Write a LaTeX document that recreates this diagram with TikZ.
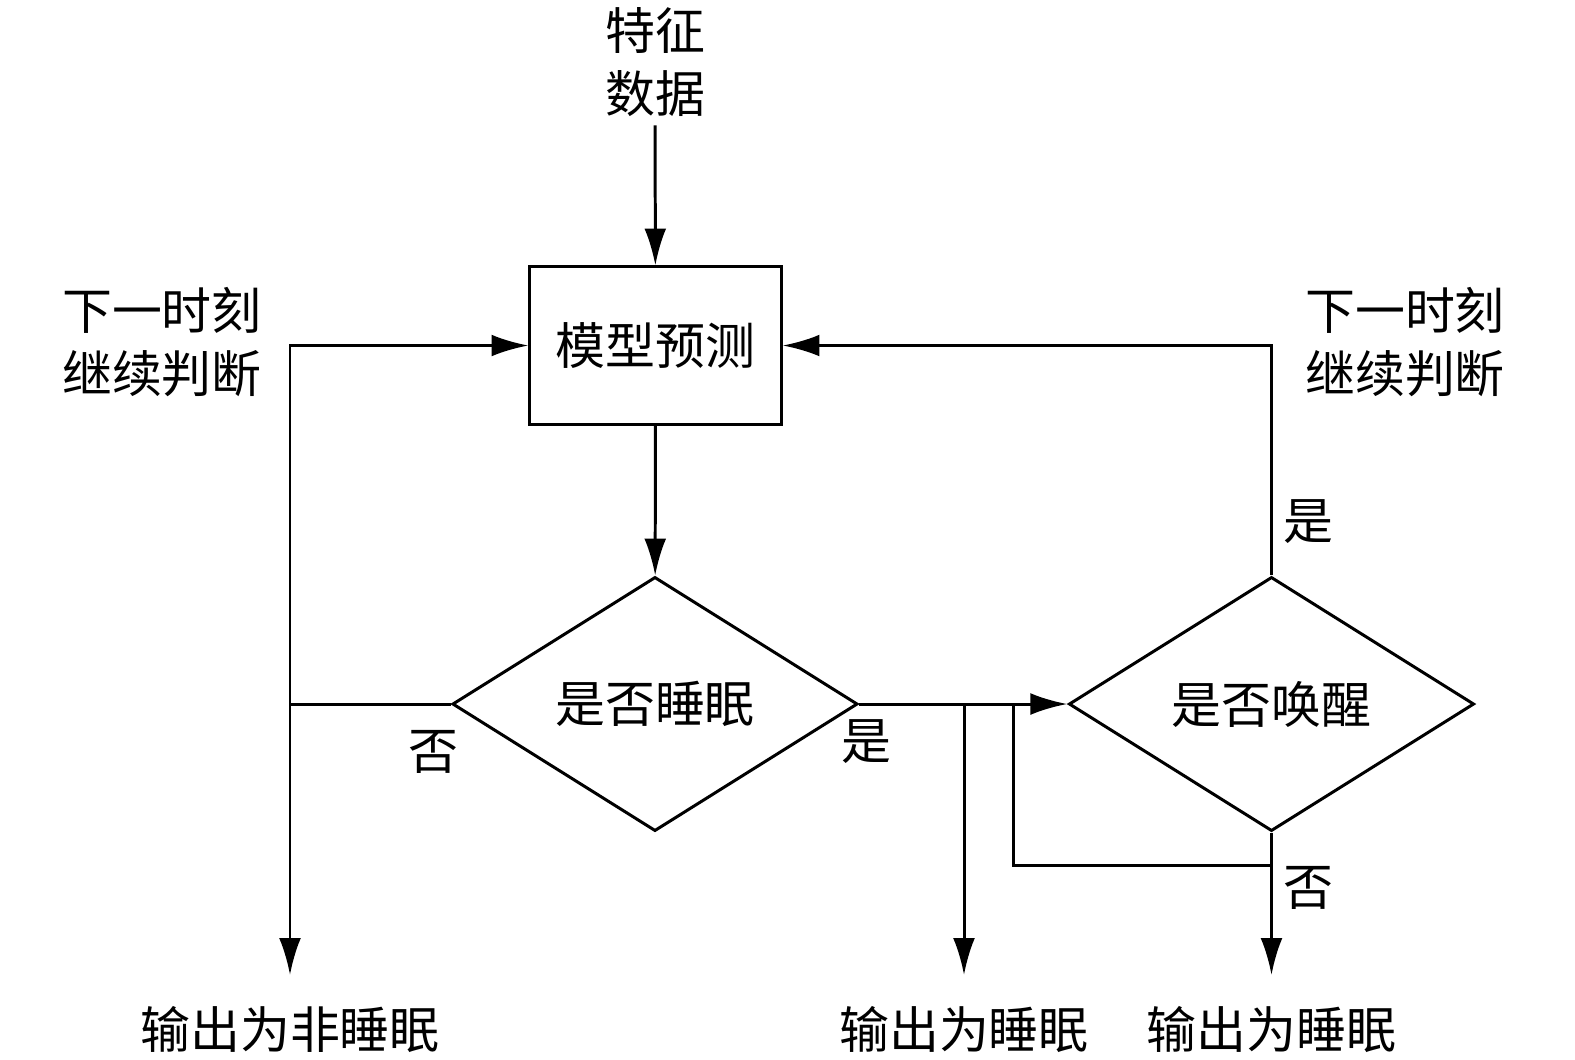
\documentclass[tikz,border=0pt]{standalone}
\usepackage{fontspec}
\newfontfamily\cjk{Noto Sans CJK SC}
\usepackage{tikz}
\usetikzlibrary{arrows.meta,shapes.geometric,calc}
\tikzset{>={Latex[length=10.5pt,width=6.2pt]}}
\tikzset{
	box/.style={draw,line width=0.85pt,minimum width=2.51cm,minimum height=1.57cm,inner sep=0pt},
	decision/.style={draw,diamond,line width=0.85pt,minimum width=4.05cm,minimum height=2.54cm,inner sep=0pt},
	txt/.style={align=center,inner sep=2pt}
}

\begin{document}
\begin{tikzpicture}[x=0.01cm,y=-0.01cm,line width=0.85pt,font=\cjk\fontsize{14.2}{18}\selectfont]
	\useasboundingbox (0,0) rectangle (1575,1059);
	
	% Nodes
	\node[txt] (feat) at (655,62) {特征\\数据}; % input
	\node[box] (model) at (655.5,345.5) {模型预测};
	\node[decision] (sleep) at (655,704) {是否睡眠};
	\node[decision] (wake) at (1271.5,704) {是否唤醒};
	\node[txt] (nextl) at (162,342) {下一时刻\\继续判断};
	\node[txt] (nextr) at (1405,342) {下一时刻\\继续判断};
	\node[txt,anchor=north,inner sep=8.5pt] (outn) at (290,975) {输出为非睡眠};
	\node[txt,anchor=north,inner sep=8.5pt] (outa) at (964,975) {输出为睡眠};
	\node[txt,anchor=north,inner sep=8.5pt] (outb) at (1271.5,975) {输出为睡眠};
	
	% Branch labels
	\node (no1) at (433,752) {否};
	\node (yes1) at (866,742) {是};
	\node (yes2) at (1308,522) {是};
	\node (no2) at (1308,888) {否};
	
	% Junction points
	\coordinate (lmid) at (290,704);
	\coordinate (rmid) at (964,704);
	\coordinate (loop) at (1013,704);
	\coordinate (wb) at (1271.5,865);
	
	% Drawing everything
	\draw[->] (feat) -- (model);
	\draw[->] (model) -- (sleep);
	\draw[->] (sleep.west) -- (lmid) |- (model.west);
	\draw[->] (lmid) -- (outn);
	\draw[->] (sleep.east) -- (wake.west);
	\draw[->] (rmid) -- (outa);
	\draw[->] (wake.north) |- (model.east);
	\draw[->] (wake.south) -- (outb);
	\draw (wb) -| (loop);
\end{tikzpicture}
\end{document}
